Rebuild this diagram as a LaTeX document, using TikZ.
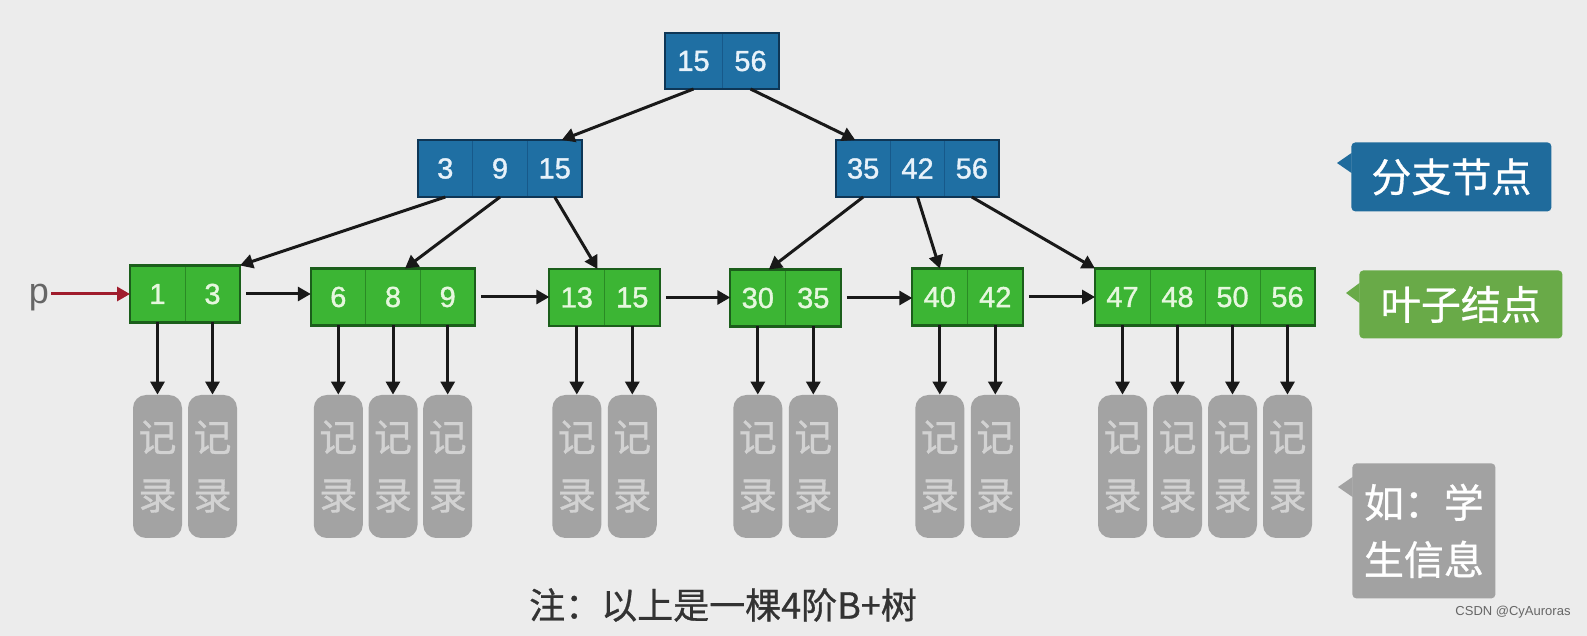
\documentclass[tikz,border=0pt]{standalone}
\usepackage{fontspec}
\setmainfont{Liberation Sans}
\newfontfamily\numfont[FakeBold=1.2]{Liberation Sans}
\newfontfamily\cjk{Noto Sans CJK SC}
\newfontfamily\cjkb[FakeBold=0.8]{Noto Sans CJK SC}
\usetikzlibrary{arrows.meta,calc,fit}
\definecolor{bgc}{HTML}{ECECEC}
\definecolor{bfill}{HTML}{1F6FA3}
\definecolor{bsep}{HTML}{17598A}
\definecolor{bdraw}{HTML}{0E3656}
\definecolor{gfill}{HTML}{3CB534}
\definecolor{gsep}{HTML}{2A8A25}
\definecolor{gdraw}{HTML}{1B5E1B}
\definecolor{gtext}{HTML}{E6F7DE}
\definecolor{btext}{HTML}{E8F2FA}
\definecolor{lblue}{HTML}{1F6B9C}
\definecolor{lgreen}{HTML}{69AA48}
\definecolor{lgray}{HTML}{A2A2A2}
\definecolor{recfill}{HTML}{A3A3A3}
\definecolor{rectext}{HTML}{D2D2D2}
\definecolor{redarrow}{HTML}{A01C2C}
\definecolor{notec}{HTML}{333333}
\definecolor{pc}{HTML}{666666}
\begin{document}
\begin{tikzpicture}[x=0.5pt,y=-0.5pt,
  >={Triangle[length=6.5pt,width=7pt]},
  arr/.style={->, line width=1.5pt, black!90},
  cellbase/.style={rectangle, inner sep=0pt, outer sep=0pt, line width=0.5pt, font=\numfont\fontsize{14.5}{14.5}\selectfont},
  bcell/.style={cellbase, fill=bfill, draw=bsep, text=btext, minimum width=27.4pt, minimum height=28.5pt},
  rcell/.style={bcell, minimum width=28.5pt, minimum height=28pt},
  lcell/.style={cellbase, fill=gfill, draw=gsep, text=gtext, minimum width=27.5pt, minimum height=28.5pt},
  bframe/.style={inner sep=0pt, outer sep=0pt, draw=bdraw, line width=1pt},
  gframe/.style={inner sep=0pt, outer sep=0pt, draw=gdraw, line width=1.1pt},
  rec/.style={rectangle, rounded corners=6.5pt, fill=recfill, minimum width=24.5pt, minimum height=71.5pt, inner sep=0pt, text=rectext, font=\cjkb\fontsize{19}{29}\selectfont, align=center},
  lab/.style={rectangle, rounded corners=2pt, inner sep=0pt, text=white, font=\cjkb\fontsize{20}{28.5}\selectfont, align=center, anchor=north west},
]
\useasboundingbox (0,0) rectangle (1587,636);
\fill[bgc] (0,0) rectangle (1587,636);

% root
\node[rcell] (r1) at (693.5,61) {15};
\node[rcell] (r2) at (750.5,61) {56};
\node[bframe, fit=(r1)(r2)] (R) {};

% branch nodes
\node[bcell] (b1) at (445.3,168.5) {3};
\node[bcell] (b2) at (500,168.5) {9};
\node[bcell] (b3) at (554.7,168.5) {15};
\node[bframe, fit=(b1)(b3)] (B1) {};
\node[bcell] (b4) at (863.2,168.5) {35};
\node[bcell] (b5) at (917.5,168.5) {42};
\node[bcell] (b6) at (971.8,168.5) {56};
\node[bframe, fit=(b4)(b6)] (B2) {};

% leaves
\node[lcell] (l1a) at (157.5,294) {1};
\node[lcell] (l1b) at (212.5,294) {3};
\node[gframe, fit=(l1a)(l1b)] (L1) {};
\node[lcell] (l2a) at (338.3,297) {6};
\node[lcell] (l2b) at (393,297) {8};
\node[lcell] (l2c) at (447.7,297) {9};
\node[gframe, fit=(l2a)(l2c)] (L2) {};
\node[lcell] (l3a) at (576.8,297.5) {13};
\node[lcell] (l3b) at (632.3,297.5) {15};
\node[gframe, fit=(l3a)(l3b)] (L3) {};
\node[lcell] (l4a) at (757.8,298) {30};
\node[lcell] (l4b) at (813.3,298) {35};
\node[gframe, fit=(l4a)(l4b)] (L4) {};
\node[lcell] (l5a) at (939.8,297) {40};
\node[lcell] (l5b) at (995.3,297) {42};
\node[gframe, fit=(l5a)(l5b)] (L5) {};
\node[lcell] (l6a) at (1122.5,297) {47};
\node[lcell] (l6b) at (1177.5,297) {48};
\node[lcell] (l6c) at (1232.5,297) {50};
\node[lcell] (l6d) at (1287.5,297) {56};
\node[gframe, fit=(l6a)(l6d)] (L6) {};

% tree edges
\draw[arr] (r1.south) -- ($(b3.north)+(7,0)$);
\draw[arr] (r2.south) -- ($(b4.north)+(-8,0)$);
\draw[arr] (b1.south) -- (L1.north east);
\draw[arr] (b2.south) -- ($(l2b.north)+(12,0)$);
\draw[arr] (b3.south) -- ($(L3.north)+(-7,0)$);
\draw[arr] (b4.south) -- ($(l4a.north)+(11,0)$);
\draw[arr] (b5.south) -- (l5a.north);
\draw[arr] (b6.south) -- (L6.north west);

% leaf chain
\draw[arr, shorten <=3pt] (L1.east) -- (L1.east -| L2.west);
\draw[arr, shorten <=3pt] (L2.east) -- (L2.east -| L3.west);
\draw[arr, shorten <=3pt] (L3.east) -- (L3.east -| L4.west);
\draw[arr, shorten <=3pt] (L4.east) -- (L4.east -| L5.west);
\draw[arr, shorten <=3pt] (L5.east) -- (L5.east -| L6.west);

% records
\foreach \n/\x in {l1a/157.5, l1b/212.5, l2a/338.3, l2b/393, l2c/447.7, l3a/576.8, l3b/632.3, l4a/757.8, l4b/813.3, l5a/939.8, l5b/995.3, l6a/1122.5, l6b/1177.5, l6c/1232.5, l6d/1287.5} {
  \node[rec] (rec-\n) at (\x,466.5) {记\\录};
  \draw[arr] (\n.south) -- (rec-\n.north);
}

% pointer p
\node[inner sep=1pt, text=pc, font=\fontsize{18}{18}\selectfont] (p) at (39,298) {p};
\draw[->, line width=1.5pt, redarrow] (p.east |- L1.west) -- (L1.west);

% side labels
\node[lab, fill=lblue, minimum width=100pt, minimum height=34.5pt] (tag1) at (1351,142) {分支节点};
\fill[lblue] ($(tag1.north west)+(0.5,11)$) -- ($(tag1.north west)+(-14,21)$) -- ($(tag1.north west)+(0.5,31)$) -- cycle;
\node[lab, fill=lgreen, minimum width=101.5pt, minimum height=34pt] (tag2) at (1359,270) {叶子结点};
\fill[lgreen] ($(tag2.north west)+(0.5,13)$) -- ($(tag2.north west)+(-13,23)$) -- ($(tag2.north west)+(0.5,33)$) -- cycle;
\node[lab, fill=lgray, minimum width=71.5pt, minimum height=67.5pt] (tag3) at (1352,463) {如：学\\生信息};
\fill[lgray] ($(tag3.north west)+(0.5,14)$) -- ($(tag3.north west)+(-14,24)$) -- ($(tag3.north west)+(0.5,34)$) -- cycle;

% note
\node[text=notec, font=\cjkb\fontsize{18}{18}\selectfont] (note) at (723,605) {注：以上是一棵4阶B+树};

% watermark
\node[text=black!60, font=\fontsize{6.5}{6.5}\selectfont] (wm) at (1513,612) {CSDN @CyAuroras};
\end{tikzpicture}
\end{document}
